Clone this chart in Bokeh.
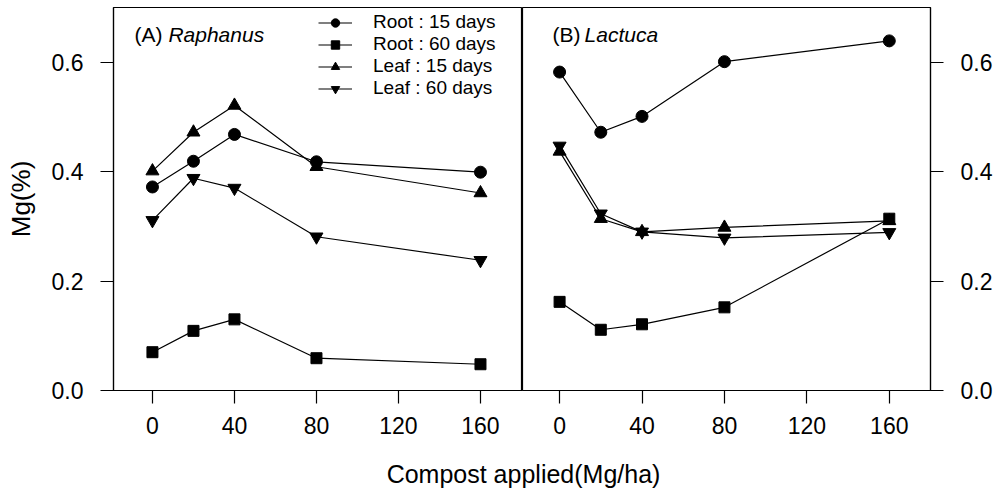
from bokeh.plotting import figure
from bokeh.layouts import row, column
from bokeh.models import (Range1d, FixedTicker, PrintfTickFormatter, Legend,
                          LegendItem, Label)
from bokeh.embed import file_html
from bokeh.resources import INLINE

# ---- data ----
compost = [0, 20, 40, 80, 160]
x_ticks = [0, 40, 80, 120, 160]
y_ticks = [0.0, 0.2, 0.4, 0.6]

series_labels = ["Root : 15 days", "Root : 60 days", "Leaf : 15 days", "Leaf : 60 days"]

raph_root15 = [0.372, 0.419, 0.468, 0.418, 0.399]
raph_root60 = [0.070, 0.109, 0.130, 0.059, 0.048]
raph_leaf15 = [0.401, 0.472, 0.521, 0.409, 0.361]
raph_leaf60 = [0.311, 0.388, 0.370, 0.281, 0.238]

lact_root15 = [0.582, 0.472, 0.501, 0.601, 0.639]
lact_root60 = [0.162, 0.111, 0.121, 0.152, 0.314]
lact_leaf15 = [0.437, 0.314, 0.290, 0.298, 0.310]
lact_leaf60 = [0.447, 0.323, 0.290, 0.279, 0.289]

markers = ["circle", "square", "triangle", "inverted_triangle"]
msizes = [12, 11, 13, 13]
FONT = "Liberation Sans"


def style(p):
    p.xgrid.visible = False
    p.ygrid.visible = False
    p.outline_line_color = "black"
    p.outline_line_width = 1.2
    p.outline_line_alpha = 1
    p.background_fill_color = "white"
    p.border_fill_color = "white"
    for ax in p.axis:
        ax.major_tick_out = 13
        ax.major_tick_in = 0
        ax.minor_tick_out = 0
        ax.minor_tick_in = 0
        ax.axis_line_color = "black"
        ax.axis_line_width = 1.2
        ax.major_tick_line_color = "black"
        ax.major_tick_line_width = 1.2
        ax.major_label_text_font = FONT
        ax.major_label_text_font_size = "23px"
        ax.major_label_text_color = "black"
    p.xaxis.ticker = FixedTicker(ticks=x_ticks)
    p.yaxis.ticker = FixedTicker(ticks=y_ticks)
    p.yaxis.formatter = PrintfTickFormatter(format="%.1f")
    p.xaxis.major_label_standoff = 13
    p.yaxis.major_label_standoff = 17


def draw(p, data):
    rends = []
    for ys, m, s in zip(data, markers, msizes):
        lr = p.line(compost, ys, line_color="black", line_width=1.2)
        sr = p.scatter(compost, ys, marker=m, size=s, fill_color="black",
                       line_color="black")
        rends.append((lr, sr))
    return rends


p1 = figure(width=522, height=448, title=None,
            x_range=Range1d(-19, 180.5), y_range=Range1d(0, 0.7),
            output_backend="svg", toolbar_location=None,
            min_border_left=113, min_border_right=0,
            min_border_top=7, min_border_bottom=58)
p2 = figure(width=479, height=448, title=None,
            x_range=Range1d(-18, 180), y_range=Range1d(0, 0.7),
            y_axis_location="right",
            output_backend="svg", toolbar_location=None,
            min_border_left=0, min_border_right=71,
            min_border_top=7, min_border_bottom=58)
style(p1)
style(p2)

p1.yaxis.axis_label = "Mg(%)"
p1.yaxis.axis_label_text_font = FONT
p1.yaxis.axis_label_text_font_size = "26px"
p1.yaxis.axis_label_text_font_style = "normal"
p1.yaxis.axis_label_text_color = "black"
p1.yaxis.axis_label_standoff = 13

r1 = draw(p1, [raph_root15, raph_root60, raph_leaf15, raph_leaf60])
draw(p2, [lact_root15, lact_root60, lact_leaf15, lact_leaf60])

items = [LegendItem(label=lab, renderers=[lr, sr]) for lab, (lr, sr) in zip(series_labels, r1)]
legend = Legend(items=items, location=(205, 291),
                label_text_font=FONT, label_text_font_size="19px",
                label_text_color="black",
                glyph_width=34, glyph_height=21, label_height=21,
                spacing=0, padding=5, label_standoff=21, margin=0,
                border_line_color=None, background_fill_alpha=0)
p1.add_layout(legend)

for p, x0, lab, name, off in [(p1, -8.8, "(A)", "Raphanus", 34),
                              (p2, -3.4, "(B)", "Lactuca", 32)]:
    p.add_layout(Label(x=x0, y=0.65, text=lab, text_font=FONT,
                       text_font_size="21px", text_baseline="middle",
                       text_align="left", text_color="black"))
    p.add_layout(Label(x=x0, y=0.65, x_offset=off, text=name, text_font=FONT,
                       text_font_size="21px", text_font_style="italic",
                       text_baseline="middle", text_align="left",
                       text_color="black"))

p3 = figure(width=1001, height=42, title=None, x_range=Range1d(0, 1),
            y_range=Range1d(0, 1), x_axis_location=None, y_axis_location=None,
            output_backend="svg", toolbar_location=None, min_border=0)
p3.xgrid.visible = False
p3.ygrid.visible = False
p3.outline_line_color = None
p3.add_layout(Label(x=523, y=17, x_units="screen", y_units="screen",
                    text="Compost applied(Mg/ha)", text_font=FONT,
                    text_font_size="25px", text_align="center",
                    text_baseline="middle", text_color="black"))

layout = column(row(p1, p2), p3)
open("out.html", "w").write(file_html(layout, INLINE))
